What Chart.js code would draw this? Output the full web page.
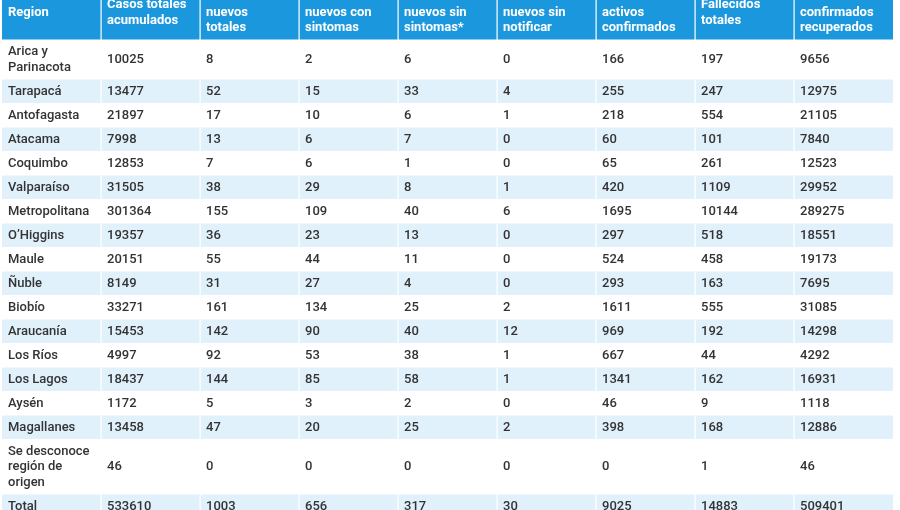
<!DOCTYPE html>
<html>
<head>
<meta charset="utf-8">
<script src="https://cdn.jsdelivr.net/npm/chart.js@4.4.1/dist/chart.umd.min.js"></script>
<style>
  html, body { margin: 0; padding: 0; background: #ffffff; }
  #wrap { width: 900px; height: 510px; position: relative; }
</style>
</head>
<body>
<div id="wrap"><canvas id="tabla"></canvas></div>
<script>
// datos de la tabla
var encabezados = [
    'Region',
    'Casos totales\nacumulados',
    'Casos\nnuevos\ntotales',
    'Casos\nnuevos con\nsintomas',
    'Casos\nnuevos sin\nsintomas*',
    'Casos\nnuevos sin\nnotificar',
    'Casos\nactivos\nconfirmados',
    'Fallecidos\ntotales',
    'Casos\nconfirmados\nrecuperados'
];
var regiones = ['Arica y\nParinacota', 'Tarapacá', 'Antofagasta', 'Atacama', 'Coquimbo', 'Valparaíso',
    'Metropolitana', 'O’Higgins', 'Maule', 'Ñuble', 'Biobío', 'Araucanía', 'Los Ríos', 'Los Lagos',
    'Aysén', 'Magallanes', 'Se desconoce\nregión de\norigen', 'Total'];
var casosTotales = [10025, 13477, 21897, 7998, 12853, 31505, 301364, 19357, 20151, 8149, 33271, 15453, 4997, 18437, 1172, 13458, 46, 533610];
var nuevosTotales = [8, 52, 17, 13, 7, 38, 155, 36, 55, 31, 161, 142, 92, 144, 5, 47, 0, 1003];
var nuevosConSintomas = [2, 15, 10, 6, 6, 29, 109, 23, 44, 27, 134, 90, 53, 85, 3, 20, 0, 656];
var nuevosSinSintomas = [6, 33, 6, 7, 1, 8, 40, 13, 11, 4, 25, 40, 38, 58, 2, 25, 0, 317];
var nuevosSinNotificar = [0, 4, 1, 0, 0, 1, 6, 0, 0, 0, 2, 12, 1, 1, 0, 2, 0, 30];
var activos = [166, 255, 218, 60, 65, 420, 1695, 297, 524, 293, 1611, 969, 667, 1341, 46, 398, 0, 9025];
var fallecidos = [197, 247, 554, 101, 261, 1109, 10144, 518, 458, 163, 555, 192, 44, 162, 9, 168, 1, 14883];
var recuperados = [9656, 12975, 21105, 7840, 12523, 29952, 289275, 18551, 19173, 7695, 31085, 14298, 4292, 16931, 1118, 12886, 46, 509401];

var columnas = [regiones, casosTotales, nuevosTotales, nuevosConSintomas, nuevosSinSintomas,
    nuevosSinNotificar, activos, fallecidos, recuperados];

var ALTO_LINEA = 15.5;
var RELLENO = 8.5;
var AZUL = '#1b97de';
var CELESTE = '#e1f1fc';

// filas: encabezado + datos, cada una con su alto segun cantidad de lineas
var filas = [];
var yActual = 0;
function agregarFila(celdas, esEncabezado, indice) {
    var lineas = 1;
    celdas.forEach(function (c) {
        var n = String(c).split('\n').length;
        if (n > lineas) lineas = n;
    });
    var alto = lineas * ALTO_LINEA + RELLENO;
    filas.push({ celdas: celdas, top: yActual, bottom: yActual + alto, encabezado: esEncabezado, indice: indice });
    yActual += alto;
}
agregarFila(encabezados, true, -1);
for (var i = 0; i < regiones.length; i++) {
    agregarFila(columnas.map(function (col) { return col[i]; }), false, i);
}

var pluginTabla = {
    id: 'pluginTabla',
    afterDraw: function (chart) {
        var ctx = chart.ctx;
        var x = chart.scales.x;
        var y = chart.scales.y;
        var x0 = x.getPixelForValue(0);
        var x1 = x.getPixelForValue(encabezados.length);
        ctx.save();

        filas.forEach(function (f) {
            var top = y.getPixelForValue(f.top);
            var bottom = y.getPixelForValue(f.bottom);
            var fondo = null;
            if (f.encabezado) fondo = AZUL;
            else if (f.indice % 2 === 1) fondo = CELESTE;
            if (fondo) {
                ctx.fillStyle = fondo;
                ctx.fillRect(x0, top, x1 - x0, bottom - top);
            }
            // separadores verticales
            ctx.fillStyle = '#ffffff';
            for (var c = 1; c < encabezados.length; c++) {
                var px = Math.round(x.getPixelForValue(c));
                ctx.fillRect(px - 0.5, top, 1.2, bottom - top);
            }
            ctx.fillRect(x0, bottom - 0.5, x1 - x0, 1);

            ctx.fillStyle = f.encabezado ? '#ffffff' : '#333333';
            ctx.font = (f.encabezado ? '700' : '500') + ' 13px Roboto, "Noto Sans", sans-serif';
            ctx.textBaseline = 'middle';
            ctx.textAlign = 'left';
            var centro = (top + bottom) / 2;
            f.celdas.forEach(function (texto, c) {
                var lineas = String(texto).split('\n');
                var tx = x.getPixelForValue(c) + 6;
                var inicio = centro - (lineas.length - 1) * ALTO_LINEA / 2;
                lineas.forEach(function (l, k) {
                    ctx.fillText(l, tx, inicio + k * ALTO_LINEA);
                });
            });
        });
        ctx.restore();
    }
};

var ctx = document.getElementById('tabla');
new Chart(ctx, {
    type: 'scatter',
    data: {
        datasets: [{
            label: 'Tabla',
            data: []
        }]
    },
    options: {
        responsive: true,
        maintainAspectRatio: false,
        animation: false,
        layout: {
            padding: { left: 2, right: 7, top: 0, bottom: 0 }
        },
        plugins: {
            legend: { display: false },
            tooltip: { enabled: false }
        },
        scales: {
            x: { type: 'linear', min: 0, max: encabezados.length, display: false },
            y: { type: 'linear', min: 15, max: 525, reverse: true, display: false }
        }
    },
    plugins: [pluginTabla]
});
</script>
</body>
</html>
